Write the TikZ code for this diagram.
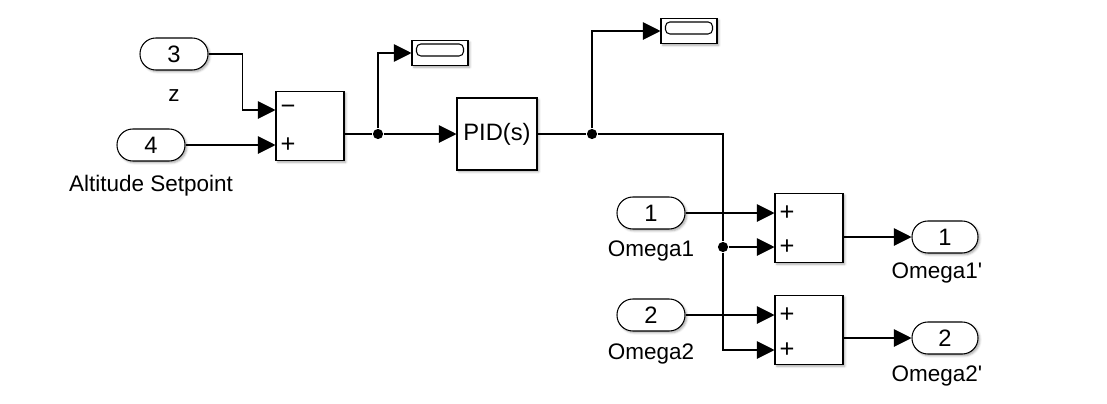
\documentclass[tikz,border=0pt]{standalone}
\usepackage{fontspec}
\setmainfont{Liberation Sans}[Ligatures=TeXOff]
\usetikzlibrary{positioning,arrows.meta,shadows.blur}

\begin{document}
\begin{tikzpicture}[x=0.02cm, y=-0.02cm, line width=0.6pt,
    font=\fontsize{12.8}{15}\selectfont,
    blk/.style = {draw, fill=white, blur shadow={shadow xshift=1pt, shadow yshift=-1pt, shadow blur radius=1.2pt, shadow opacity=35}},
    port/.style = {blk, rounded corners=9pt, minimum width=1.36cm, minimum height=0.64cm, inner sep=0pt, font=\fontsize{13.5}{15}\selectfont},
    sumblk/.style = {blk, minimum width=1.36cm, minimum height=1.38cm, inner sep=0pt},
    disp/.style = {blk, minimum width=1.12cm, minimum height=0.5cm, inner sep=0pt},
    sgn/.style = {anchor=west, inner sep=0pt, xshift=0.09cm, font=\fontsize{14.5}{15}\selectfont},
    sig/.style = {-{Triangle[length=10pt,width=10pt]}},
    dot/.style = {circle, fill, inner sep=0pt, minimum size=5.8pt}]
    \useasboundingbox (0,0) rectangle (1107,403);

    % altitude error
    \node[port] (in3) at (174,54) {3};
    \node[] (zlab) [below of=in3, node distance=0.84cm] {z};
    \node[port] (in4) at (151,145) {4};
    \node[] (altlab) [below of=in4, node distance=0.82cm] {Altitude Setpoint};
    \node[sumblk] (sumA) at (310,126) {};
    \coordinate (sA1) at (sumA.west |- 0,110);
    \coordinate (sA2) at (sumA.west |- 0,145);
    \coordinate (sAo) at (sumA.east |- 0,134);
    \node[sgn] at (sA1) {−};
    \node[sgn] at (sA2) {+};
    \draw [sig] (in3.east) -| ([xshift=-0.66cm]sA1) -- (sA1);
    \draw [sig] (in4.east) -- (sA2);

    \node[disp] (disp1) at (440,53) {};
    \node[blk, minimum width=1.6cm, minimum height=1.44cm, font=\fontsize{13.5}{15}\selectfont] (pid) at (497,134) {PID(s)};
    \node[dot] (j1) at (378,134) {};
    \draw (sAo) -- (j1);
    \draw [sig] (j1) |- (disp1.west);
    \draw [sig] (j1) -- (pid.west);

    \node[disp] (disp2) at (689,31) {};
    \foreach \d in {disp1,disp2}
        \draw[rounded corners=2.5pt] ([xshift=0.1cm,yshift=-0.08cm]\d.north west) rectangle ([xshift=-0.1cm,yshift=-0.32cm]\d.north east);
    \node[dot] (j2) at (592,134) {};
    \draw (pid.east) -- (j2);
    \draw [sig] (j2) |- (disp2.west);

    % motor speeds
    \node[port] (in1) at (651,213) {1};
    \node[] (om1) [below of=in1, node distance=0.76cm] {Omega1};
    \node[port] (in2) at (651,315) {2};
    \node[] (om2) [below of=in2, node distance=0.78cm] {Omega2};

    \node[sumblk] (sumB) at (809,228) {};
    \coordinate (sB1) at (sumB.west |- 0,213);
    \coordinate (sB2) at (sumB.west |- 0,247);
    \coordinate (sBo) at (sumB.east |- 0,237);
    \node[sgn] at (sB1) {+};
    \node[sgn] at (sB2) {+};
    \node[sumblk] (sumC) at (809,330) {};
    \coordinate (sC1) at (sumC.west |- 0,315);
    \coordinate (sC2) at (sumC.west |- 0,350);
    \coordinate (sCo) at (sumC.east |- 0,338);
    \node[sgn] at (sC1) {+};
    \node[sgn] at (sC2) {+};

    \node[dot] (j3) at (723,247) {};
    \draw [sig] (j2) -| (j3) |- (sC2);
    \draw [sig] (j3) -- (sB2);
    \draw [sig] (in1.east) -- (sB1);
    \draw [sig] (in2.east) -- (sC1);

    \node[port, minimum width=1.32cm] (out1) at (945,237) {1};
    \node[] (om1p) [below of=out1, node distance=0.72cm, xshift=-0.16cm] {Omega1'};
    \node[port, minimum width=1.32cm] (out2) at (945,338) {2};
    \node[] (om2p) [below of=out2, node distance=0.76cm, xshift=-0.16cm] {Omega2'};
    \draw [sig] (sBo) -- (out1.west);
    \draw [sig] (sCo) -- (out2.west);
\end{tikzpicture}
\end{document}
